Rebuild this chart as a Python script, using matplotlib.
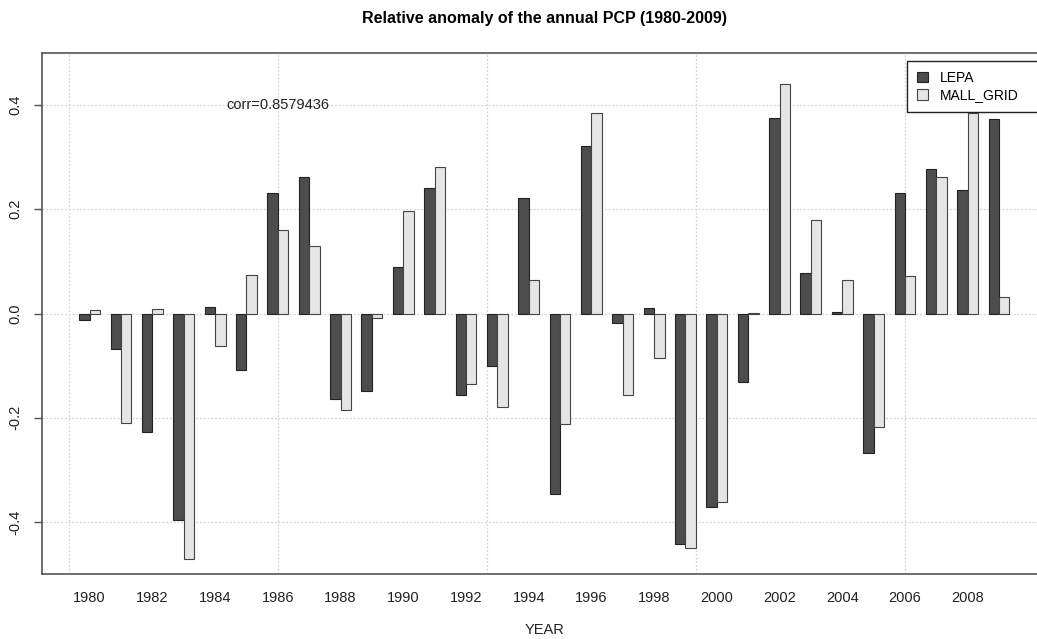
import numpy as np
import matplotlib
matplotlib.use("Agg")
import matplotlib.pyplot as plt

plt.rcParams['font.family'] = ['Liberation Sans', 'DejaVu Sans']

# ================== DATA ==================
years = list(range(1980, 2010))
lepa = [-0.012, -0.069, -0.228, -0.396, 0.013, -0.108, 0.232, 0.262, -0.165, -0.149,
        0.090, 0.240, -0.157, -0.100, 0.221, -0.347, 0.321, -0.019, 0.010, -0.442,
        -0.371, -0.132, 0.375, 0.078, 0.003, -0.267, 0.231, 0.277, 0.237, 0.374]
mall_grid = [0.007, -0.211, 0.009, -0.471, -0.063, 0.073, 0.161, 0.129, -0.186, -0.008,
             0.197, 0.282, -0.136, -0.179, 0.064, -0.213, 0.385, -0.156, -0.086, -0.451,
             -0.361, 0.001, 0.441, 0.180, 0.065, -0.217, 0.072, 0.262, 0.385, 0.031]
series_names = ["LEPA", "MALL_GRID"]
corr_text = "corr=0.8579436"

# ================== PLOT ==================
fig = plt.figure(figsize=(10.37, 6.39), dpi=100)
ax = fig.add_axes([42 / 1037, 65 / 639, 1004.7 / 1037, 521 / 639])

# R style barplot(beside=TRUE): groups of 2 bars, one bar gap
g = np.arange(len(years))
x_dark = 3 * g + 1.5
x_light = 3 * g + 2.5
centers = 3 * g + 2

ax.set_xlim(-2.56, 93.56)
ax.set_ylim(-0.5, 0.5)

# grid
for yv in [-0.4, -0.2, 0.0, 0.2, 0.4]:
    ax.axhline(yv, color="#d4d4d4", lw=0.9, ls=(0, (1.5, 1.5)), zorder=0)
for xv in [0, 20, 40, 60, 80]:
    ax.axvline(xv, color="#d4d4d4", lw=0.9, ls=(0, (1.5, 1.5)), zorder=0)

ax.bar(x_dark, lepa, width=1, color="#4d4d4d", edgecolor="#222222", lw=0.8,
       label=series_names[0], zorder=2)
ax.bar(x_light, mall_grid, width=1, color="#e5e5e5", edgecolor="#444444", lw=0.8,
       label=series_names[1], zorder=2)

ax.text(20, 0.4, corr_text, ha="center", va="center", fontsize=10.5, color="#222222")

# axes styling
for s in ["left", "bottom", "top"]:
    ax.spines[s].set_color("#555555")
    ax.spines[s].set_linewidth(1.2)
ax.spines["right"].set_visible(False)

ax.set_yticks([-0.4, -0.2, 0.0, 0.2, 0.4])
ax.set_yticklabels(["-0.4", "-0.2", "0.0", "0.2", "0.4"], rotation=90, va="center")
ax.tick_params(axis="y", length=6, width=1, color="#555555", labelsize=10.5,
               labelcolor="#222222", pad=8)

ax.set_xticks(centers[::2])
ax.set_xticklabels([str(y) for y in years[::2]])
ax.tick_params(axis="x", length=0, labelsize=10.5, labelcolor="#222222", pad=12)

ax.set_xlabel("YEAR", fontsize=10.5, color="#222222", labelpad=13)
fig.text(545 / 1037, 1 - 18 / 639, "Relative anomaly of the annual PCP (1980-2009)",
         fontsize=11.5, fontweight="bold", ha="center", va="center")

leg = ax.legend(loc="upper left",
                bbox_to_anchor=(907 / 1037, 1 - 111 / 639, 150 / 1037, 50 / 639),
                bbox_transform=fig.transFigure, mode="expand", fancybox=False,
                framealpha=1, edgecolor="#222222", fontsize=10, handlelength=0.8,
                handleheight=0.8, handletextpad=0.9, borderpad=0.7,
                labelspacing=0.25, borderaxespad=0)
leg.get_frame().set_linewidth(1.0)

fig.savefig("out.png", dpi=100)
